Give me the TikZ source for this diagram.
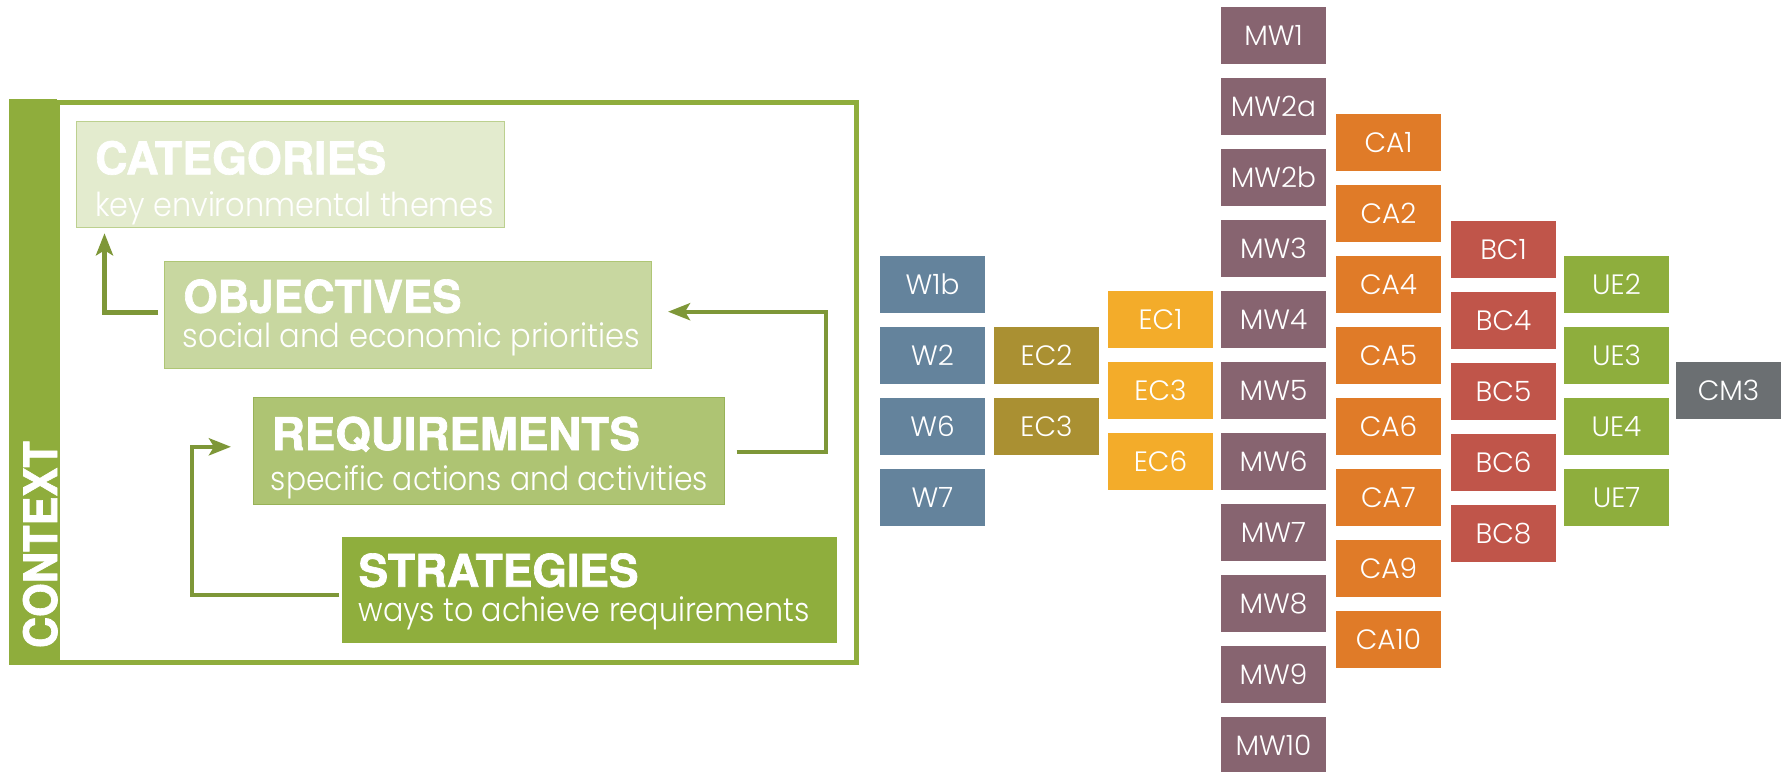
\documentclass[tikz,border=0pt]{standalone}
\usepackage{fontspec}
\usepackage{graphicx}
\setmainfont{Poppins}
\newfontfamily\subfont{Poppins}[UprightFont={* Light}]
\newfontfamily\headfont{TeX Gyre Heros}[BoldFeatures={FakeBold=1.5}]
\usetikzlibrary{arrows.meta}

\definecolor{ctxgreen}{HTML}{8FAD3C}
\definecolor{arrowgreen}{HTML}{7E9738}
\definecolor{catfill}{HTML}{E3EBCE}
\definecolor{catline}{HTML}{BCD08F}
\definecolor{objfill}{HTML}{C8D7A0}
\definecolor{objline}{HTML}{AFC675}
\definecolor{reqfill}{HTML}{AEC473}
\definecolor{reqline}{HTML}{98B257}
\definecolor{strfill}{HTML}{8FAE3D}
\definecolor{wblue}{HTML}{64839C}
\definecolor{ecolive}{HTML}{AA9032}
\definecolor{ecyellow}{HTML}{F3AC2A}
\definecolor{mwplum}{HTML}{876470}
\definecolor{caorange}{HTML}{E07B28}
\definecolor{bcred}{HTML}{C0554A}
\definecolor{uegreen}{HTML}{8EAE3D}
\definecolor{cmgrey}{HTML}{6B6F72}

\tikzset{
  layerbox/.style={rectangle, anchor=north west, inner sep=0pt, outer sep=0pt,
    line width=1pt},
  headtext/.style={anchor=base west, inner sep=0pt, text=white,
    font=\headfont\bfseries\fontsize{45}{45}\selectfont},
  subtext/.style={anchor=base west, inner sep=0pt, text=white,
    font=\subfont\fontsize{33}{33}\selectfont},
  arr/.style={draw=arrowgreen, line width=4.3pt,
    -{Stealth[length=22pt,width=17pt,inset=5pt]}},
  tile/.style={rectangle, anchor=north west, inner sep=0pt, outer sep=0pt,
    minimum width=105pt, minimum height=57pt, text=white,
    text height=20pt, text depth=0pt,
    font=\subfont\fontsize{28}{28}\selectfont},
}

\begin{document}
\begin{tikzpicture}[x=1pt,y=-1pt]
\useasboundingbox (0,0) rectangle (1782,771);
\fill[white] (0,0) rectangle (1782,771);

% context frame and side bar
\node[layerbox, draw=ctxgreen, line width=5pt, minimum width=799.5pt,
      minimum height=560pt] (frame) at (57,102.5) {};
\node[layerbox, fill=ctxgreen, line width=0pt, minimum width=48pt,
      minimum height=566pt] (ctxbar) at (9,99) {};
\node[anchor=base west, inner sep=0pt, rotate=90, text=white,
      font=\headfont\bfseries\fontsize{46}{46}\selectfont] (ctxlabel)
      at (57,648.3) {\resizebox{207pt}{\height}{CONTEXT}};

% the four layers
\node[layerbox, fill=catfill, draw=catline, minimum width=427.3pt,
      minimum height=106pt] (cat) at (76.7,121.7) {};
\node[layerbox, fill=objfill, draw=objline, minimum width=487.7pt,
      minimum height=106.6pt] (obj) at (164,261.7) {};
\node[layerbox, fill=reqfill, draw=reqline, minimum width=471pt,
      minimum height=107pt] (req) at (253.3,397.3) {};
\node[layerbox, fill=strfill, minimum width=494.4pt,
      minimum height=105.4pt] (strat) at (342.3,537.3) {};

\node[headtext] (catH) at (95,174.3) {\resizebox{291pt}{\height}{CATEGORIES}};
\node[subtext] (catS) at (95,216.7) {\resizebox{399pt}{\height}{key environmental themes}};
\node[headtext] (objH) at (183.3,312.7) {\resizebox{278pt}{\height}{OBJECTIVES}};
\node[subtext] (objS) at (182.7,347.3) {\resizebox{457pt}{\height}{social and economic priorities}};
\node[headtext] (reqH) at (271.7,450) {\resizebox{368pt}{\height}{REQUIREMENTS}};
\node[subtext] (reqS) at (270.7,490.7) {\resizebox{437pt}{\height}{specific actions and activities}};
\node[headtext] (strH) at (358.3,586.7) {\resizebox{280pt}{\height}{STRATEGIES}};
\node[subtext] (strS) at (358.3,621.7) {\resizebox{451pt}{\height}{ways to achieve requirements}};

% feedback arrows between layers
\draw[arr] ([xshift=-6pt,yshift=2.5pt]obj.west)
      -| ([xshift=27.8pt,yshift=-5.6pt]cat.south west);
\draw[arr] ([xshift=12.4pt,yshift=-1pt]req.east) -- ++(89.3,0)
      |- ([xshift=16.3pt,yshift=3.3pt]obj.east);
\draw[arr] ([xshift=-3.3pt,yshift=-5.3pt]strat.west) -- ++(-147,0)
      |- ([xshift=-22.3pt,yshift=4pt]req.west);

% indicator columns
\foreach \n/\y in {W1b/256, W2/327, W6/398, W7/469}
  \node[tile, fill=wblue] (\n) at (880,\y) {\n};
\foreach \n/\id/\y in {EC2/ecb2/327, EC3/ecb3/398}
  \node[tile, fill=ecolive] (\id) at (994,\y) {\n};
\foreach \n/\id/\y in {EC1/eca1/291, EC3/eca3/362, EC6/eca6/433}
  \node[tile, fill=ecyellow] (\id) at (1108,\y) {\n};
\foreach \n [count=\k from 0] in {MW1, MW2a, MW2b, MW3, MW4, MW5, MW6, MW7, MW8, MW9, MW10}
  \node[tile, fill=mwplum] (\n) at (1221,{7+71*\k}) {\n};
\foreach \n/\y in {CA1/114, CA2/185, CA4/256, CA5/327, CA6/398, CA7/469, CA9/540, CA10/611}
  \node[tile, fill=caorange] (\n) at (1336,\y) {\n};
\foreach \n/\y in {BC1/221, BC4/292, BC5/363, BC6/434, BC8/505}
  \node[tile, fill=bcred] (\n) at (1451,\y) {\n};
\foreach \n/\y in {UE2/256, UE3/327, UE4/398, UE7/469}
  \node[tile, fill=uegreen] (\n) at (1564,\y) {\n};
\node[tile, fill=cmgrey] (CM3) at (1676,362) {CM3};
\end{tikzpicture}
\end{document}
